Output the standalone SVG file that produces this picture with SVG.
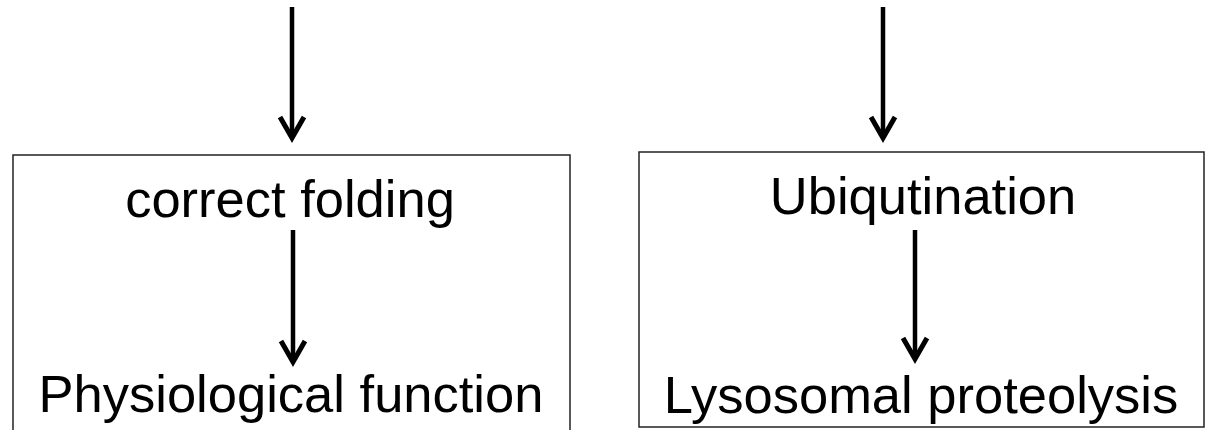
<svg xmlns="http://www.w3.org/2000/svg" width="1214" height="430" viewBox="0 0 1214 430">
<style>
.box{fill:#fff;stroke:#222;stroke-width:1.5}
.lbl{font-family:"Liberation Sans",Arial,sans-serif;font-size:52.5px;fill:#000;text-anchor:middle}
.shaft{stroke:#000;stroke-width:4.5;fill:none}
.head{stroke:#000;stroke-width:5;fill:none;stroke-linejoin:miter;stroke-linecap:butt}
</style>
<rect width="1214" height="430" fill="#fff"/>
<g id="node-left">
<rect class="box" x="13" y="155" width="557" height="290"/>
<text class="lbl" x="290" y="217">correct folding</text>
<text class="lbl" x="291" y="412">Physiological function</text>
</g>
<g id="node-right">
<rect class="box" x="639" y="152" width="565" height="275"/>
<text class="lbl" x="923" y="214">Ubiqutination</text>
<text class="lbl" x="921" y="413">Lysosomal proteolysis</text>
</g>
<g id="connectors">
<line class="shaft" x1="292" y1="7" x2="292" y2="136"/>
<polyline class="head" points="280,117 292,138 304,117"/>
<line class="shaft" x1="883" y1="7" x2="883" y2="136"/>
<polyline class="head" points="871,117 883,138 895,117"/>
<line class="shaft" x1="293" y1="230" x2="293" y2="360"/>
<polyline class="head" points="281,341 293,362 305,341"/>
<line class="shaft" x1="915" y1="230" x2="915" y2="357"/>
<polyline class="head" points="903,338 915,359 927,338"/>
</g>
</svg>
